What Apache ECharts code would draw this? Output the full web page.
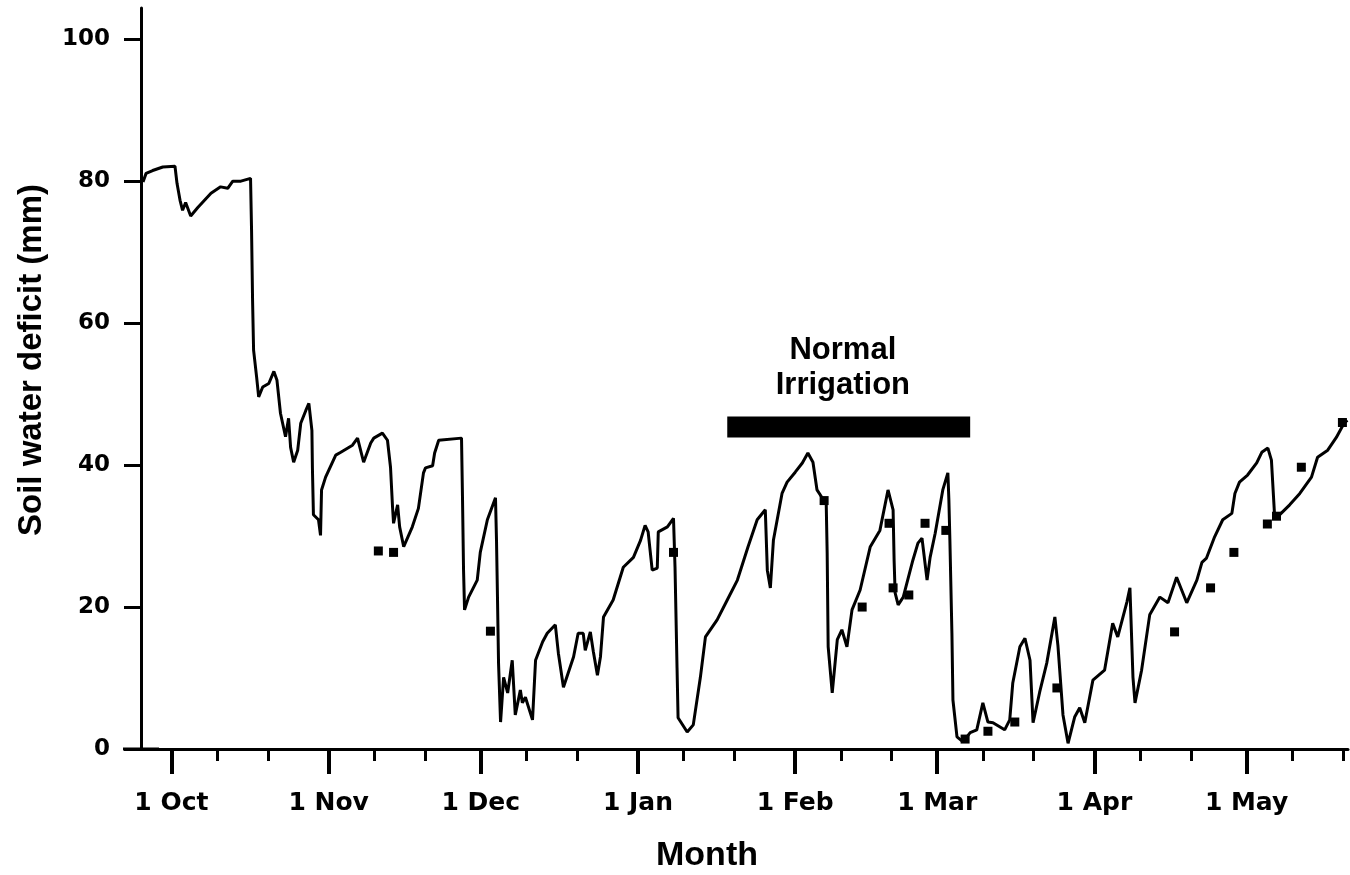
<!DOCTYPE html>
<html><head><meta charset="utf-8">
<script src="https://cdn.jsdelivr.net/npm/echarts@6/dist/echarts.min.js"></script>
<style>html,body{margin:0;padding:0;background:#fff}#c{width:1350px;height:875px}</style>
</head><body><div id="c"></div>
<script>
// x values are days counted from 1 Oct (day 0)
const monthDays = [0, 31, 61, 92, 123, 151, 182, 212];
const monthLabels = ['1 Oct', '1 Nov', '1 Dec', '1 Jan', '1 Feb', '1 Mar', '1 Apr', '1 May'];
const minorTickDays = [9, 19, 40, 50, 70, 80, 101, 111, 132, 142, 160, 170, 191, 201, 221, 231];
const yTicks = [0, 20, 40, 60, 80, 100];

const deficitDays = [-5.6,-5.0,-3.7,-1.7,0.7,1.1,1.7,2.2,2.8,3.8,
  5.2,7.8,9.7,11.1,12.1,13.7,15.6,15.8,16.0,16.2,
  16.8,17.2,18.0,19.2,20.2,20.8,21.5,22.5,23.1,23.5,
  24.1,24.9,25.5,26.5,27.1,27.7,27.8,28.0,29.0,29.4,
  29.6,30.4,32.4,33.4,35.7,36.7,37.9,39.3,39.9,41.6,
  42.6,43.2,43.6,43.8,44.6,45.0,45.8,47.5,48.7,49.7,
  50.1,51.5,51.9,52.7,57.2,57.4,57.6,57.8,58.6,60.3,
  60.9,62.3,63.9,64.1,64.3,64.5,64.9,65.5,66.3,67.2,
  67.8,68.8,69.2,69.8,71.2,71.8,73.2,74.1,75.7,76.3,
  77.3,79.3,80.2,81.2,81.6,82.6,83.2,84.0,84.6,85.2,
  87.1,89.1,91.1,92.5,93.4,94.0,94.8,95.8,96.0,97.8,
  99.0,99.3,99.7,99.9,101.7,102.9,104.3,105.3,107.6,109.6,
  111.6,113.7,115.5,117.1,117.5,118.1,118.7,120.4,121.4,123.0,
  124.4,125.5,126.5,127.3,128.3,129.1,129.3,129.5,130.3,131.3,
  132.2,133.2,134.2,135.8,137.8,139.7,141.3,142.3,142.5,142.7,
  143.3,144.3,146.2,147.2,148.0,149.0,149.6,150.6,152.1,153.1,
  153.3,153.5,153.9,154.1,154.9,156.1,157.5,158.8,160.0,161.0,
  162.0,164.3,165.3,165.9,167.3,168.3,169.3,169.9,171.2,172.6,
  174.2,174.8,175.8,176.8,178.1,179.1,180.1,181.7,184.0,185.6,
  186.6,188.4,189.0,189.6,190.0,191.3,192.9,194.9,196.5,198.2,
  200.2,202.2,203.2,204.1,205.7,207.3,209.1,209.7,210.6,212.2,
  214.0,215.0,216.2,216.9,217.5,218.1,220.5,222.5,224.8,226.0,
  228.0,229.7,231.3,231.9];
const deficitValues = [79.9,81.1,81.5,82,82.1,79.7,77.3,75.9,77,75.1,
  76.3,78.3,79.2,79,80,80,80.4,73.1,63.2,56.2,
  52.4,49.6,51,51.5,53.2,52,47.3,44,46.6,42.5,
  40.4,42.1,45.9,47.7,48.7,44.9,39.6,33,32.3,30.1,
  36.5,38.3,41.4,41.8,42.8,43.8,40.4,43.1,43.8,44.5,
  43.5,39.7,34.1,31.8,34.4,31.3,28.5,31.3,33.9,38.9,
  39.6,39.9,41.7,43.5,43.8,35.1,25.2,19.6,21.4,23.8,
  27.7,32.3,35.4,29.4,21,12.1,3.8,10.1,7.9,12.5,
  4.8,8.3,6.5,7.3,4.1,12.5,15.1,16.3,17.5,13.5,
  8.7,13,16.3,16.3,13.9,16.5,13.7,10.4,13,18.6,
  21,25.6,27,29.4,31.5,30.6,25.2,25.5,30.6,31.3,
  32.5,25.6,11.4,4.4,2.4,3.4,10.1,15.8,18.2,21,
  23.8,28.5,32.3,33.7,25.2,22.7,29.4,36,37.6,39,
  40.3,41.7,40.4,36.5,35.4,35.1,27.6,14.4,7.9,15.4,
  16.8,14.4,19.6,22.4,28.5,30.8,36.5,33.7,26.6,22,
  20.3,21.4,26.6,29,29.7,23.8,27,30.4,36.5,38.9,
  35.1,29.4,16.3,6.9,1.7,1,2.3,2.7,6.5,3.8,
  3.7,2.7,4.1,9.3,14.4,15.6,12.5,3.7,8,12.1,
  18.6,14.6,4.8,0.8,4.5,5.8,3.7,9.7,11.1,17.7,
  15.8,20.7,22.7,10.1,6.5,11.1,18.9,21.4,20.6,24.2,
  20.6,23.8,26.3,26.9,29.9,32.3,33.2,36,37.6,38.6,
  40.3,41.8,42.4,40.7,33.2,32.7,34.4,36,38.3,41.1,
  42.1,43.9,46,46.3];

const obsDays = [40.8,43.8,62.9,99.0,128.7,136.2,141.5,142.3,145.4,148.6,152.7,156.5,161.0,166.3,174.6,197.8,204.9,209.5,216.1,217.9,222.8,230.9];
const obsValues = [27.9,27.7,16.6,27.7,35.0,20.0,31.8,22.7,21.7,31.8,30.8,1.4,2.5,3.8,8.6,16.5,22.7,27.7,31.7,32.8,39.7,46.0];

const irrigationStartEnd = [109.6, 157.5];
const irrigationLevel = 45.35;
const irrigationText = 'Normal\nIrrigation';
const irrigationTextAt = [132.4, 53.7];

const FONT = '"Liberation Sans", Arial, sans-serif';
const TICKFONT = '"DejaVu Sans", sans-serif';
const chart = echarts.init(document.getElementById('c'));
const lineData = deficitDays.map((d, i) => [d, deficitValues[i]]);
const obsData = obsDays.map((d, i) => [d, obsValues[i]]);

chart.setOption({
  animation: false,
  backgroundColor: '#fff',
  grid: { left: 141, right: 2, top: 8, bottom: 126, containLabel: false, outerBoundsMode: 'none' },
  xAxis: [{
    type: 'value', min: -6, max: 232, position: 'bottom',
    splitLine: { show: false },
    axisLine: { show: true, onZero: false, lineStyle: { color: '#000', width: 3 }, symbol: ['rect', 'none'], symbolSize: [3, 36] },
    axisTick: { show: true, customValues: monthDays, length: 25, lineStyle: { color: '#000', width: 4 } },
    axisLabel: {
      show: true, customValues: monthDays, margin: 42,
      formatter: v => monthLabels[monthDays.indexOf(v)] || '',
      color: '#000', fontSize: 25, fontWeight: 'bold', fontFamily: TICKFONT
    },
    name: 'Month', nameLocation: 'middle', nameGap: 90,
    nameTextStyle: { color: '#000', fontSize: 34, fontWeight: 'bold', fontFamily: FONT, padding: [0, 75, 0, 0] }
  }, {
    type: 'value', min: -6, max: 232, position: 'bottom',
    splitLine: { show: false },
    axisLine: { show: false, onZero: false },
    axisTick: { show: true, customValues: minorTickDays, length: 12, lineStyle: { color: '#000', width: 3 } },
    axisLabel: { show: false }
  }],
  yAxis: {
    type: 'value', min: 0, max: 104.4,
    splitLine: { show: false },
    axisLine: { show: true, onZero: false, lineStyle: { color: '#000', width: 3 } },
    axisTick: { show: true, customValues: yTicks, length: 17, lineStyle: { color: '#000', width: 3 } },
    axisLabel: { show: true, customValues: yTicks, margin: 31, color: '#000', fontSize: 23, fontWeight: 'bold', fontFamily: TICKFONT },
    name: 'Soil water deficit (mm)', nameLocation: 'middle', nameGap: 93,
    nameTextStyle: { color: '#000', fontSize: 33, fontFamily: FONT, fontWeight: 'bold', padding: [0, 0, 0, 37] }
  },
  series: [{
    type: 'line', data: lineData, showSymbol: false, symbol: 'none',
    lineStyle: { color: '#000', width: 3 }, z: 3
  }, {
    type: 'scatter', data: obsData, symbol: 'rect', symbolSize: 9,
    itemStyle: { color: '#000', opacity: 1 }, z: 4
  }, {
    type: 'line', data: irrigationStartEnd.map(d => [d, irrigationLevel]), showSymbol: false, symbol: 'none',
    lineStyle: { color: '#000', width: 21, cap: 'butt' }, z: 2
  }, {
    type: 'scatter', data: [irrigationTextAt], symbolSize: 0, silent: true,
    itemStyle: { opacity: 1, color: '#000' },
    label: {
      show: true, position: [0, 0], align: 'center', verticalAlign: 'middle', opacity: 1,
      formatter: irrigationText, color: '#000', fontSize: 31, fontWeight: 'bold', fontFamily: FONT, lineHeight: 35
    }
  }]
});
</script></body></html>
